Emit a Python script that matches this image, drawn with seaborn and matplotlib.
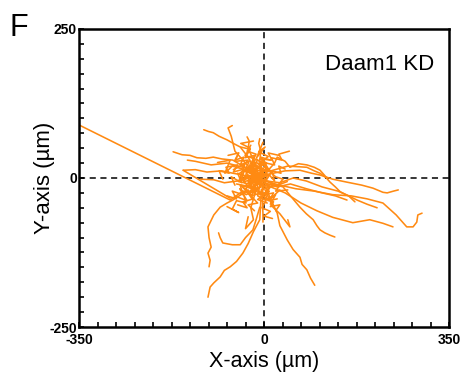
import numpy as np
import pandas as pd
import matplotlib
matplotlib.use("Agg")
import matplotlib.pyplot as plt
import seaborn as sns

# cell tracks, positions in µm relative to the start point
right_tracks = [
    ([0, 30, 60, 95, 130, 165, 195, 225, 250, 270, 282, 289, 291, 299],
     [-5, -12, -18, -22, -28, -30, -35, -42, -62, -82, -82, -74, -62, -59]),
    ([5, 40, 70, 100, 130, 168, 200, 225, 244],
     [-12, -25, -42, -55, -66, -75, -70, -76, -82]),
    ([0, 40, 68, 90, 106, 130, 157, 185, 206, 225, 233, 245, 254],
     [5, 12, 13, 8, 5, -2, -7, -12, -17, -24, -25, -22, -20]),
    ([5, 45, 81, 95, 106, 118, 125, 135, 144, 160, 176, 195, 214],
     [10, 20, 18, 12, 8, 0, -7, -15, -23, -30, -37, -44, -50]),
    ([5, 25, 36, 50, 68, 80, 93, 100, 106, 115, 125, 134],
     [-10, -12, -15, -30, -49, -60, -70, -80, -87, -92, -96, -99]),
    ([5, 15, 25, 30, 44, 55, 68, 72, 81, 88, 96],
     [-20, -40, -59, -80, -104, -120, -133, -145, -154, -168, -180]),
    ([0, 20, 25, 40, 49, 65, 81, 95, 106, 119],
     [5, 25, 35, 28, 18, 24, 22, 18, 13, 0]),
    ([5, 30, 55, 80, 110, 140, 160, 172],
     [-5, -8, 0, -5, -15, -22, -30, -40]),
    ([0, 25, 50, 80, 110, 135, 157],
     [-8, -15, -10, -18, -25, -30, -37]),
    ([2, 17, 30, 49, 45],
     [-20, -49, -60, -82, -70]),
]

left_tracks = [
    ([-350, -64, -40], [89, -37, -22]),
    ([-153, -100, -64], [13, -15, -34]),
    ([-10, -40, -59, -80, -96, -110, -127, -140, -155, -172],
     [5, 20, 30, 32, 35, 33, 34, 38, 39, 44]),
    ([-15, -30, -45, -58, -70, -85, -96, -105, -114],
     [10, 35, 52, 58, 64, 70, 76, 78, 81]),
    ([-5, -20, -30, -45, -55, -62, -68, -60],
     [5, 10, 20, 35, 45, 70, 84, 88]),
    ([-10, -20, -30, -28, -32], [5, 30, 50, 62, 69]),
    ([-5, -8, -6, -10, -8], [10, 30, 45, 58, 66]),
    ([-20, -40, -59, -80, -108, -130, -153], [0, 5, 8, 12, 10, 14, 13]),
    ([-15, -40, -70, -100, -130, -145], [15, 18, 25, 22, 28, 30]),
    ([-10, -30, -50, -75, -95, -120], [-5, -10, -5, -8, -3, -2]),
]

down_tracks = [
    ([-5, -8, -20, -30, -40, -52, -64, -75, -83, -95, -102, -106],
     [-20, -70, -90, -110, -126, -140, -149, -155, -166, -176, -183, -200]),
    ([-30, -59, -70, -83, -95, -106, -104, -100, -106, -102, -104],
     [-20, -37, -42, -49, -62, -82, -100, -116, -126, -138, -149]),
    ([-8, -15, -21, -35, -45, -60, -78, -83, -86],
     [-49, -70, -87, -100, -112, -112, -109, -100, -92]),
    ([-2, -3, -2, -2], [-10, -40, -60, -74]),
    ([-15, -25, -20, -35, -30], [-20, -50, -70, -85, -65]),
]

center_tracks = [
    ([-10, -25, -18, -35, -28, -45, -38, -55, -48], [0, 8, 20, 15, 28, 22, 35, 30, 42]),
    ([-10, 5, -5, 12, 2, 18, 10, 25], [0, -10, -20, -15, -28, -25, -38, -35]),
    ([-10, -30, -22, -45, -40, -60, -52, -70], [0, -5, -18, -12, -28, -22, -35, -30]),
    ([-10, 0, -15, 5, -8, 15, 8, 28], [0, 12, 18, 25, 32, 30, 42, 38]),
    ([-10, -20, -5, -25, -12, -30, -18], [0, -15, -25, -30, -42, -45, -55]),
    ([-10, 10, 20, 15, 32, 28, 40], [0, 5, -5, 12, 8, 20, 15]),
    ([-10, -35, -28, -50, -42, -62, -55], [0, 12, 0, 8, -8, 2, -12]),
    ([-10, -5, -22, -15, -32, -25], [0, 22, 28, 40, 45, 55]),
    ([-10, 8, 0, 18, 12, 30, 22], [0, -22, -32, -40, -48, -45, -55]),
    ([-10, -18, -2, -12, 5, -6, 12], [0, 10, 15, 25, 20, 35, 30]),
    ([-10, -28, -20, -40, -32, -50], [0, -25, -35, -40, -50, -45]),
    ([-10, 2, -12, 0, -20, -8, -25], [0, 5, -8, -12, 2, -5, 8]),
    ([-10, -40, -30, -55, -48, -68], [0, 20, 30, 28, 42, 38]),
    ([-10, 15, 5, 30, 22, 45], [0, -8, -15, -12, -22, -20]),
    ([-10, -15, -8, -20, -12, -25, -5], [0, -12, -5, -18, -8, -22, -15]),
    ([-12, -30, -42, -38, -58, -50, -72, -66, -85, -78], [-3, 5, -2, 15, 10, 22, 18, 8, 12, -2]),
    ([-8, 6, -2, 20, 14, 34, 28, 48], [2, 18, 26, 22, 34, 30, 40, 45]),
    ([-14, -22, -40, -34, -52, -60, -48, -70], [-4, -28, -22, -42, -38, -52, -58, -48]),
    ([-6, -16, 0, -8, 10, 2, 18, 30], [4, -8, -14, -28, -22, -36, -30, -20]),
    ([-12, -2, -20, -30, -18, -36, -26, -44], [-2, 12, 26, 10, 38, 34, 48, 52]),
    ([-8, -26, -14, -34, -46, -32, -56], [0, -12, -20, -28, -18, -38, -30]),
    ([-10, 4, 14, 2, 22, 36, 26, 44], [-2, -4, 10, 18, 2, -2, -12, -6]),
    ([-14, -44, -36, -60, -74, -64, -88], [2, -2, 14, 20, 8, 30, 26]),
    ([-6, -12, 4, -4, 12, 0, 16], [-4, -30, -38, -50, -56, -64, -68]),
    ([-12, -32, -24, -18, -38, -30, -46], [6, 2, -10, -2, -6, 18, 8]),
    ([-8, -4, 8, -10, 2, -14, -2], [-2, 28, 36, 44, 52, 34, 60]),
    ([-10, -22, -8, -28, -20, -40, -30, -52], [0, -6, -10, -16, 4, -4, -14, -10]),
    ([-10, 0, 10, -2, 8, 22, 12], [0, -6, -16, -30, -38, -28, -44]),
    ([-10, -24, -12, -36, -26, -44, -20], [0, 16, 30, 38, 50, 58, 62]),
    ([-16, -6, -24, -12, -30, -18, -36, -22], [-6, 4, 10, -2, -8, 6, 12, 20]),
    ([-4, -18, -10, -28, -16, -34, -22], [6, -2, -18, -12, -26, -20, -36]),
    ([-20, -8, -26, -14, -2, -20, -6], [10, 18, 24, 32, 22, 14, 6]),
    ([-12, 2, -6, 8, 0, 14, 4], [-10, -2, 8, 4, 14, 10, 20]),
    ([-18, -30, -16, -36, -24, -42, -28], [-12, -4, 2, -20, -30, -14, -24]),
    ([-8, -20, -4, -16, 0, -12, 6], [2, -6, -12, -22, -28, -36, -42]),
    ([-14, -28, -22, -48, -36, -58], [4, 22, 4, -6, 24, 14]),
    ([-10, -2, 6, -6, 4, -8], [0, -14, 4, 10, 22, 28]),
]

x_ticks = list(range(-350, 351, 35))
y_ticks = list(range(-250, 251, 25))
x_labels = {-350: "-350", 0: "0", 350: "350"}
y_labels = {-250: "-250", 0: "0", 250: "250"}

rows = []
for k, (xs, ys) in enumerate(right_tracks + left_tracks + down_tracks + center_tracks):
    for i, (a, b) in enumerate(zip(xs, ys)):
        rows.append({"track": k, "step": i, "x": a, "y": b})
df = pd.DataFrame(rows)

sns.set_style("ticks")
plt.rcParams["font.family"] = ["Liberation Sans", "DejaVu Sans"]
plt.rcParams["text.color"] = "black"
plt.rcParams["axes.labelcolor"] = "black"

fig = plt.figure(figsize=(4.61, 3.79), dpi=100)
ax = fig.add_axes([0.1714, 0.1372, 0.8026, 0.7863])

ax.axhline(0, color="black", lw=1.1, ls=(0, (4, 3)), zorder=1)
ax.axvline(0, color="black", lw=1.1, ls=(0, (4, 3)), zorder=1)

sns.lineplot(data=df, x="x", y="y", units="track", estimator=None, sort=False,
             color="#ff8a12", lw=1.15, ax=ax, zorder=2)

ax.set_xlim(-350, 350)
ax.set_ylim(-250, 250)
ax.set_xticks(x_ticks)
ax.set_xticklabels([x_labels.get(t, "") for t in x_ticks], fontweight="bold", fontsize=10)
ax.set_yticks(y_ticks)
ax.set_yticklabels([y_labels.get(t, "") for t in y_ticks], fontweight="bold", fontsize=10)
ax.tick_params(direction="in", length=3.5, width=1.2, colors="black")
ax.tick_params(axis="x", pad=4)
ax.tick_params(axis="y", pad=1.5)

for s in ax.spines.values():
    s.set_linewidth(1.8)
    s.set_color("black")

ax.set_xlabel("X-axis (µm)", fontsize=15.5)
ax.set_ylabel("Y-axis (µm)", fontsize=16)
ax.xaxis.set_label_coords(0.5, -0.08)
ax.yaxis.set_label_coords(-0.065, 0.5)

ax.text(323, 190, "Daam1 KD", ha="right", va="center", fontsize=16)
fig.text(0.02, 0.965, "F", fontsize=22, ha="left", va="top")

fig.savefig("out.png", dpi=100)
